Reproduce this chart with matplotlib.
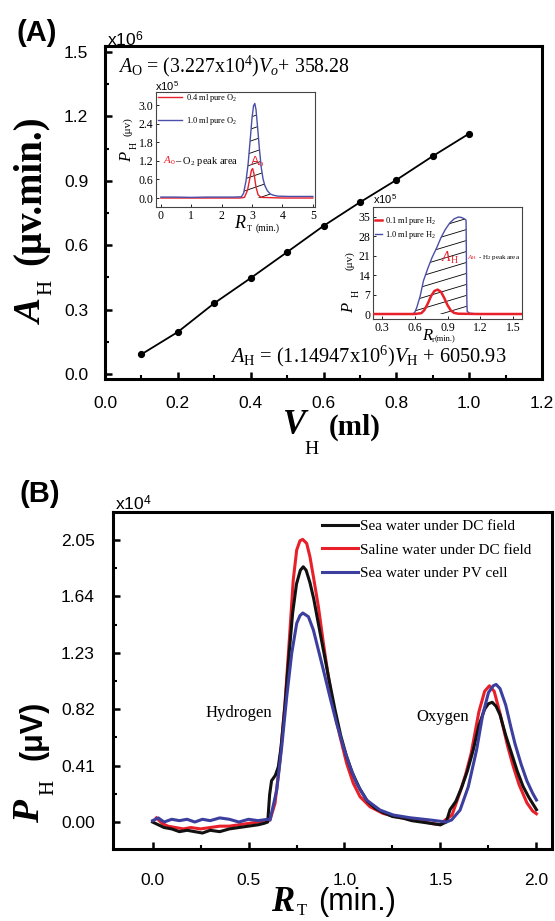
import matplotlib
matplotlib.use('Agg')
import matplotlib.pyplot as plt
import numpy as np
from matplotlib.ticker import MultipleLocator, FixedLocator, FormatStrFormatter

plt.rcParams['mathtext.fontset'] = 'custom'
plt.rcParams['mathtext.rm'] = 'Liberation Serif'
plt.rcParams['mathtext.it'] = 'Liberation Serif:italic'
plt.rcParams['mathtext.bf'] = 'Liberation Serif:bold'
plt.rcParams['mathtext.sf'] = 'Liberation Sans'
plt.rcParams['font.family'] = ['Liberation Sans', 'DejaVu Sans']

# ---------------- data ----------------
# Panel A: calibration (A_H vs V_H), x10^6
vol_h = [0.1, 0.2, 0.3, 0.4, 0.5, 0.6, 0.7, 0.8, 0.9, 1.0]
area_h = [0.092, 0.196, 0.330, 0.447, 0.568, 0.690, 0.800, 0.904, 1.015, 1.120]

# Inset 1: O2 peaks (x10^5)
o2_x_blue = [0.0, 0.5, 1.0, 1.5, 2.0, 2.4, 2.65, 2.72, 2.80, 2.87, 2.94, 3.00, 3.05, 3.09,
             3.13, 3.18, 3.24, 3.30, 3.36, 3.42, 3.50, 3.60, 3.70, 3.85, 4.2, 4.6, 5.0]
o2_y_blue = [0.03, 0.03, 0.02, 0.03, 0.03, 0.03, 0.04, 0.15, 0.55, 1.10, 1.90, 2.60, 2.98, 3.05,
             2.85, 2.30, 1.60, 1.00, 0.62, 0.40, 0.24, 0.13, 0.09, 0.06, 0.05, 0.05, 0.05]
o2_x_red = [0.0, 1.0, 2.0, 2.6, 2.75, 2.85, 2.92, 2.98, 3.02, 3.07, 3.13, 3.20, 3.30, 4.0, 5.0]
o2_y_red = [0.0, 0.0, 0.0, 0.0, 0.02, 0.25, 0.60, 0.90, 0.95, 0.75, 0.35, 0.10, 0.02, 0.0, 0.0]
o2_legend = ['0.4 ml pure O$_2$', '1.0 ml pure O$_2$']
o2_yticks = [0.0, 0.6, 1.2, 1.8, 2.4, 3.0]
o2_xticks = [0, 1, 2, 3, 4, 5]

# Inset 2: H2 peaks (x10^5)
h2_x_blue = [0.22, 0.40, 0.55, 0.58, 0.60, 0.62, 0.65, 0.68, 0.72, 0.76, 0.80, 0.84, 0.88, 0.92,
             0.96, 1.00, 1.03, 1.06, 1.07, 1.073, 1.077, 1.08, 1.10, 1.15, 1.30, 1.58]
h2_y_blue = [0.0, 0.0, 0.0, 0.1, 0.5, 2.5, 6.5, 12.0, 16.5, 20.5, 23.8, 27.5, 30.5, 32.8,
             34.3, 35.0, 34.8, 34.2, 33.8, 20.0, 5.0, 1.0, 0.3, 0.1, 0.0, 0.0]
h2_x_red = [0.22, 0.40, 0.60, 0.66, 0.69, 0.72, 0.75, 0.78, 0.81, 0.84, 0.87, 0.90, 0.93, 0.96,
            1.00, 1.20, 1.58]
h2_y_red = [0.0, 0.0, 0.0, 0.3, 1.5, 3.8, 6.5, 8.3, 8.8, 8.0, 5.8, 3.2, 1.3, 0.4, 0.1, 0.0, 0.0]
h2_legend = ['0.1 ml pure H$_2$', '1.0 ml pure H$_2$']
h2_yticks = [0, 7, 14, 21, 28, 35]
h2_xticks = [0.3, 0.6, 0.9, 1.2, 1.5]

# Panel B: chromatograms (x10^4)
sea_dc_x = [0.00, 0.03, 0.06, 0.10, 0.14, 0.18, 0.22, 0.26, 0.30, 0.35, 0.40, 0.45, 0.50, 0.55,
            0.58, 0.60, 0.61, 0.62, 0.64, 0.655, 0.67, 0.69, 0.71, 0.73, 0.75, 0.77, 0.785, 0.80,
            0.82, 0.84, 0.86, 0.89, 0.92, 0.95, 0.98, 1.01, 1.04, 1.08, 1.12, 1.16, 1.20, 1.25,
            1.30, 1.35, 1.40, 1.45, 1.50, 1.53, 1.55, 1.58, 1.61, 1.64, 1.67, 1.70, 1.73, 1.75,
            1.77, 1.79, 1.81, 1.84, 1.87, 1.90, 1.93, 1.96, 2.00]
sea_dc_y = [0.00, -0.02, -0.04, -0.05, -0.07, -0.06, -0.07, -0.08, -0.06, -0.07, -0.05, -0.04,
            -0.03, -0.02, -0.01, 0.00, 0.20, 0.30, 0.34, 0.40, 0.55, 0.85, 1.20, 1.52, 1.73, 1.83,
            1.855, 1.83, 1.74, 1.62, 1.47, 1.25, 1.03, 0.82, 0.63, 0.48, 0.36, 0.24, 0.15, 0.10,
            0.07, 0.04, 0.03, 0.01, 0.00, -0.01, -0.02, 0.00, 0.09, 0.15, 0.25, 0.37, 0.52, 0.70,
            0.82, 0.86, 0.87, 0.84, 0.78, 0.63, 0.50, 0.37, 0.26, 0.18, 0.09]

saline_dc_x = [0.02, 0.05, 0.08, 0.12, 0.16, 0.20, 0.25, 0.30, 0.35, 0.40, 0.45, 0.50, 0.55, 0.60,
               0.612, 0.638, 0.664, 0.69, 0.716, 0.733, 0.751, 0.768, 0.782, 0.803, 0.82, 0.838,
               0.864, 0.89, 0.916, 0.942, 0.977, 1.011, 1.046, 1.081, 1.133, 1.20, 1.29, 1.39,
               1.45, 1.50, 1.52, 1.56, 1.60, 1.63, 1.66, 1.70, 1.73, 1.755, 1.78, 1.81, 1.85,
               1.88, 1.91, 1.95, 1.98, 2.00]
saline_dc_y = [0.03, -0.01, -0.03, -0.04, -0.05, -0.04, -0.05, -0.04, -0.03, -0.03, -0.02, -0.01,
               0.00, 0.01, 0.015, 0.136, 0.45, 0.863, 1.395, 1.759, 1.977, 2.044, 2.054, 2.025,
               1.928, 1.783, 1.565, 1.299, 1.056, 0.838, 0.620, 0.427, 0.281, 0.184, 0.111, 0.063,
               0.031, 0.015, -0.01, -0.02, 0.01, 0.05, 0.21, 0.34, 0.50, 0.80, 0.95, 0.99, 0.95,
               0.79, 0.55, 0.40, 0.27, 0.14, 0.08, 0.06]

sea_pv_x = [0.00, 0.03, 0.06, 0.10, 0.14, 0.18, 0.22, 0.26, 0.30, 0.35, 0.40, 0.45, 0.50, 0.55,
            0.60, 0.612, 0.647, 0.673, 0.699, 0.725, 0.751, 0.768, 0.783, 0.812, 0.838, 0.864,
            0.89, 0.924, 0.959, 0.994, 1.029, 1.063, 1.115, 1.185, 1.254, 1.342, 1.445, 1.53,
            1.558, 1.602, 1.645, 1.688, 1.72, 1.75, 1.775, 1.79, 1.81, 1.84, 1.865, 1.888, 1.92,
            1.95, 1.98, 2.00]
sea_pv_y = [0.01, 0.03, 0.00, 0.02, 0.01, 0.02, 0.00, 0.02, 0.01, 0.03, 0.02, 0.00, 0.02, 0.01,
            0.02, 0.015, 0.233, 0.547, 0.91, 1.226, 1.444, 1.50, 1.519, 1.492, 1.395, 1.25,
            1.105, 0.91, 0.717, 0.547, 0.402, 0.281, 0.16, 0.087, 0.051, 0.031, 0.015, 0.00,
            0.015, 0.087, 0.257, 0.523, 0.78, 0.94, 0.99, 1.00, 0.97, 0.85, 0.70, 0.57, 0.42,
            0.30, 0.21, 0.16]
series_b = ['Sea water under DC field', 'Saline water under DC field', 'Sea water under PV cell']
b_yticks = [0.00, 0.41, 0.82, 1.23, 1.64, 2.05]
b_xticks = [0.0, 0.5, 1.0, 1.5, 2.0]

# ---------------- figure ----------------
W, H = 555, 921
fig = plt.figure(figsize=(W / 100, H / 100), dpi=100)
fig.patch.set_facecolor('white')


def box(l, t, r, b):
    return [l / W, 1 - b / H, (r - l) / W, (b - t) / H]


def T(px, py, s, size, **kw):
    kw.setdefault('ha', 'center')
    kw.setdefault('va', 'center')
    return fig.text(px / W, 1 - py / H, s, fontsize=size, **kw)


SERIF = ['Liberation Serif', 'DejaVu Serif']
SANS = ['Liberation Sans', 'DejaVu Sans']
RED = '#e8202a'
BLUE = '#3c3f9e'
IBLUE = '#4a4ea8'


def style_main(ax):
    for sp in ax.spines.values():
        sp.set_linewidth(2.2)
    ax.tick_params(which='both', direction='in', top=False, right=False)
    ax.tick_params(which='major', length=5, width=1.8, labelsize=12.5)
    ax.tick_params(which='minor', length=3, width=1.5)
    for lab in ax.get_xticklabels() + ax.get_yticklabels():
        lab.set_family(SANS)


def hatch(ax, poly, slope, spacing):
    path = poly.get_paths()[0]
    for c in np.arange(-2.0, 1.5, spacing):
        ln, = ax.plot([0, 1], [c, c + slope], transform=ax.transAxes, color='k', lw=0.6,
                      zorder=1.5)
        ln.set_clip_path(path, ax.transData)


# ---- Panel A ----
axA = fig.add_axes(box(105, 46, 542, 379))
axA.plot(vol_h, area_h, color='k', lw=1.3, marker='o', ms=4.2)
axA.set_xlim(0, 1.2)
axA.set_ylim(-0.023, 1.528)
axA.xaxis.set_major_locator(MultipleLocator(0.2))
axA.xaxis.set_minor_locator(MultipleLocator(0.1))
axA.yaxis.set_major_locator(MultipleLocator(0.3))
axA.yaxis.set_minor_locator(MultipleLocator(0.15))
axA.xaxis.set_major_formatter(FormatStrFormatter('%.1f'))
axA.yaxis.set_major_formatter(FormatStrFormatter('%.1f'))
style_main(axA)
axA.tick_params(axis='x', pad=12)
axA.tick_params(axis='y', pad=12)

# ---- Inset 1 (O2) ----
ax1 = fig.add_axes(box(156, 92, 315, 207))
ax1.plot(o2_x_red, o2_y_red, color=RED, lw=1.0, label=o2_legend[0], zorder=3)
ax1.plot(o2_x_blue, o2_y_blue, color=IBLUE, lw=1.0, label=o2_legend[1], zorder=3)
p1 = ax1.fill_between(o2_x_blue[6:22], o2_y_blue[6:22], 0, facecolor='none', edgecolor='none')
hatch(ax1, p1, 0.48, 0.104)
ax1.set_xlim(-0.16, 5.07)
ax1.set_ylim(-0.29, 3.42)
ax1.set_xticks(o2_xticks)
ax1.set_yticks(o2_yticks)
ax1.yaxis.set_major_formatter(FormatStrFormatter('%.1f'))
for sp in ax1.spines.values():
    sp.set_linewidth(0.8)
    sp.set_color('#444444')
ax1.tick_params(direction='in', length=2, width=0.6, labelsize=8.5, pad=2)
for lab in ax1.get_xticklabels() + ax1.get_yticklabels():
    lab.set_family(SERIF)
ax1.legend(loc='upper left', bbox_to_anchor=(0.013, 1.0), frameon=False, borderpad=0,
           borderaxespad=0, handlelength=2.9, handletextpad=0.5, labelspacing=1.3,
           prop={'family': SERIF, 'size': 6})

# ---- Inset 2 (H2) ----
ax2 = fig.add_axes(box(373, 207, 522, 319))
ax2.plot(h2_x_blue, h2_y_blue, color=IBLUE, lw=1.0, label=h2_legend[1], zorder=3)
ax2.plot(h2_x_red, h2_y_red, color=RED, lw=1.8, label=h2_legend[0], zorder=4)
p2 = ax2.fill_between(h2_x_blue[4:22], h2_y_blue[4:22], 0, facecolor='none', edgecolor='none')
hatch(ax2, p2, 0.40, 0.098)
ax2.set_xlim(0.218, 1.582)
ax2.set_ylim(-1.8, 38.6)
ax2.set_xticks(h2_xticks)
ax2.set_yticks(h2_yticks)
ax2.xaxis.set_major_formatter(FormatStrFormatter('%.1f'))
for sp in ax2.spines.values():
    sp.set_linewidth(0.8)
    sp.set_color('#444444')
ax2.tick_params(direction='in', length=2, width=0.6, labelsize=8.5, pad=2)
for lab in ax2.get_xticklabels() + ax2.get_yticklabels():
    lab.set_family(SERIF)
hd, lb = ax2.get_legend_handles_labels()
ax2.legend(hd[::-1], lb[::-1], loc='upper left', bbox_to_anchor=(0.013, 0.93), frameon=False,
           borderpad=0, borderaxespad=0, handlelength=0.9, handletextpad=0.3, labelspacing=0.2,
           prop={'family': SERIF, 'size': 6})

# ---- Panel B ----
axB = fig.add_axes(box(113, 512, 552, 849))
axB.plot(sea_dc_x, sea_dc_y, color='#111111', lw=2.2, label=series_b[0], zorder=3)
axB.plot(saline_dc_x, saline_dc_y, color=RED, lw=2.2, label=series_b[1], zorder=2)
axB.plot(sea_pv_x, sea_pv_y, color=BLUE, lw=2.2, label=series_b[2], zorder=4)
axB.set_xlim(-0.206, 2.081)
axB.set_ylim(-0.196, 2.253)
axB.set_xticks(b_xticks)
axB.xaxis.set_minor_locator(MultipleLocator(0.25))
axB.set_yticks(b_yticks)
axB.yaxis.set_minor_locator(FixedLocator([0.205, 0.615, 1.025, 1.435, 1.845]))
axB.xaxis.set_major_formatter(FormatStrFormatter('%.1f'))
axB.yaxis.set_major_formatter(FormatStrFormatter('%.2f'))
style_main(axB)
axB.tick_params(axis='x', pad=17)
axB.tick_params(axis='y', pad=13)
axB.legend(loc='upper left', bbox_to_anchor=(0.476, 0.978), frameon=False, borderpad=0,
           borderaxespad=0, handlelength=2.35, handletextpad=0.15, labelspacing=0.65,
           prop={'family': SERIF, 'size': 11})

# ---------------- text ----------------
T(37, 33, '(A)', 21, weight='bold', family=SANS)
T(40, 494, '(B)', 21, weight='bold', family=SANS)
T(107, 46, r'x10$^{\mathsf{6}}$', 12.5, ha='left', va='baseline', family=SANS)
T(115, 510, r'x10$^{\mathsf{4}}$', 12.5, ha='left', va='baseline', family=SANS)

# Panel A axis labels
T(32, 312, 'A', 27, weight='bold', style='italic', family=SERIF, rotation=90)
T(47, 287, 'H', 15, family=SERIF, rotation=90)
T(31, 190, '(μv.min.)', 28, weight='bold', family=SERIF, rotation=90)
T(295, 425, 'V', 25, weight='bold', style='italic', family=SERIF)
T(312, 449, 'H', 14, family=SERIF)
T(355, 427, '(ml)', 21, weight='bold', family=SERIF)

# Panel A equations
T(118, 72, r'$A_{\rm O}$ = (3.227x10$^4$)$V_o$+ 358.28', 14.3, ha='left', va='baseline',
  family=SERIF)
T(230, 362, r'$A_{\rm H}$ = (1.14947x10$^6$)$V_{\rm H}$ + 6050.93', 14.7, ha='left',
  va='baseline', family=SERIF)

# Inset 1 texts
T(155, 91, r'x10$^{\mathsf{5}}$', 8, ha='left', va='baseline', family=SANS)
T(127, 157, 'P', 12, style='italic', family=SERIF, rotation=90)
T(134, 145, 'H', 7, family=SERIF, rotation=90)
T(128, 127, '(μv)', 8, family=SERIF, rotation=90)
T(240, 223, 'R', 13, style='italic', family=SERIF)
T(249, 229, 'T', 6, family=SERIF)
T(268, 228, '(min.)', 7, family=SERIF)
T(163, 161, r'$A_{\rm o}$', 8, ha='left', color=RED, family=SERIF)
T(175, 161, '– O$_2$ peak area', 7.5, ha='left', family=SERIF)
T(257, 162, r'A$_{\rm o}$', 9, color=RED, family=SANS)

# Inset 2 texts
T(373, 204, r'x10$^{\mathsf{5}}$', 8, ha='left', va='baseline', family=SANS)
T(349, 308, 'P', 12, style='italic', family=SERIF, rotation=90)
T(356, 293, 'H', 7, family=SERIF, rotation=90)
T(350, 261, '(μv)', 8, family=SERIF, rotation=90)
T(427, 336, 'R', 12, style='italic', family=SERIF)
T(433, 340, 'T', 5, family=SERIF)
T(445, 338, '(min.)', 6, family=SERIF)
T(450, 258, r'$A_{\rm H}$', 10, color=RED, family=SERIF)
T(467, 258, r'$A_{\rm H}$', 5, ha='left', color=RED, family=SERIF)
T(478, 258, '- H$_2$ peak area', 5, ha='left', family=SERIF)

# Panel B axis labels
T(30, 812, 'P', 27, weight='bold', style='italic', family=SERIF, rotation=90)
T(49, 787, 'H', 15, family=SERIF, rotation=90)
T(33, 730, '(μV)', 22, weight='bold', family=SANS, rotation=90)
T(283, 902, 'R', 25, weight='bold', style='italic', family=SERIF)
T(302, 911, 'T', 12, family=SERIF)
T(357, 902, '(min.)', 22, family=SANS)

# Panel B annotations
T(239, 713, 'Hydrogen', 12, family=SERIF)
T(443, 717, 'Oxygen', 12, family=SERIF)

fig.savefig('out.png', dpi=100, facecolor='white')
